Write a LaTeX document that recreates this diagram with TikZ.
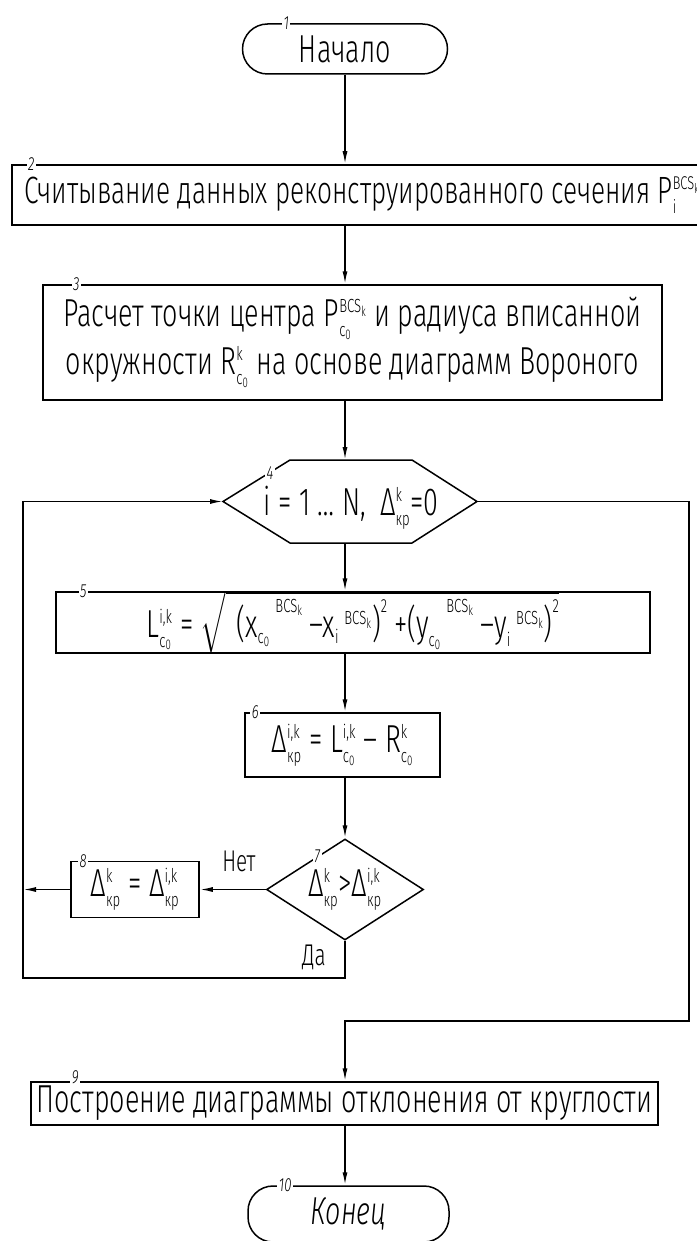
\RequirePackage{fix-cm}
\documentclass[tikz,border=0pt]{standalone}
\usepackage{amsmath}
\usepackage{fontspec}
\setmainfont{Fira Sans Light}[ItalicFont={Fira Sans Light Italic},
  FakeStretch=0.69]
\usepackage{tikz}
\usetikzlibrary{arrows.meta, positioning, calc, shapes.geometric}
\DeclareMathSizes{39}{39}{19}{14}
\DeclareMathSizes{38}{38}{18.5}{13.5}
\newcommand{\bcs}{\text{BCS}_{\text{k}}}
\newcommand{\cz}{\text{c}_{\text{0}}}
\newcommand{\kr}{\text{кр}}

\begin{document}
\begin{tikzpicture}[x=1pt, y=-1pt, line width=1.5pt,
          font=\fontsize{39}{48}\selectfont,
          arr/.style={-{Latex[length=13pt,width=5pt]}},
          box/.style={draw, inner sep=0pt, align=center},
          term/.style={draw, rounded corners=25pt, inner sep=0pt},
          num/.style={fill=white, inner sep=1.5pt,
            font=\fontsize{19}{19}\selectfont\itshape}]
        \path[use as bounding box, fill=white] (0,0) rectangle (696,1241);
        \node[term, minimum width=205pt, minimum height=50pt] (n1)
              at (345,49) {Начало};
        \node[box, minimum width=700pt, minimum height=60pt,
              font=\fontsize{38}{48}\selectfont] (n2)
              at (362,195) {Считывание данных реконструированного
              сечения P$_{\text{i}}^{\bcs}$};
        \node[box, minimum width=619pt, minimum height=115pt] (n3)
              at (352.5,342.5) {Расчет точки центра P$_{\cz}^{\bcs}$
              и радиуса вписанной\\окружности R$_{\cz}^{\text{k}}$
              на основе диаграмм Вороного};
        \coordinate (n4c) at (351,501.5);
        \node (n4) at (351,508) {i = 1 … N,\, Δ$_{\kr}^{\text{k}}$=0};
        \draw (n4c) ++(-61,-41.5) coordinate (n4nw) -- ++(122,0)
              -- ++(65,41.5) coordinate (n4e) -- ++(-65,41.5)
              -- ++(-122,0) coordinate (n4sw) -- ++(-67,-41.5)
              coordinate (n4w) -- cycle;
        \node[box, minimum width=594pt, minimum height=61pt] (n5)
              at (353,622.5) {L$_{\cz}^{\text{i,k}}$ = $\sqrt{\;
              {\text{(x}_{\cz}}^{\;\bcs}\,{\text{–x}_{\text{i}}}^{\;\bcs}
              \text{)}^{\text{2}}\,\text{+}
              {\text{(y}_{\cz}}^{\;\bcs}\,{\text{–y}_{\text{i}}}^{\;\bcs}
              \text{)}^{\text{2}}}$};
        \node[box, minimum width=195pt, minimum height=64pt] (n6)
              at (342.5,745) {Δ$_{\kr}^{\text{i,k}}$ = L$_{\cz}^{\text{i,k}}$
              – R$_{\cz}^{\text{k}}$};
        \node[diamond, draw, aspect=1.55, inner sep=0pt,
              minimum width=157pt, minimum height=101pt] (n7)
              at (345,889.5) {Δ$_{\kr}^{\text{k}}$>Δ$_{\kr}^{\text{i,k}}$};
        \node[box, minimum width=128pt, minimum height=56pt] (n8)
              at (135,889.5) {Δ$_{\kr}^{\text{k}}$ = Δ$_{\kr}^{\text{i,k}}$};
        \node[box, minimum width=627pt, minimum height=43pt] (n9)
              at (344.5,1103.5) {Построение диаграммы отклонения от круглости};
        \node[term, minimum width=201pt, minimum height=56pt,
              font=\fontsize{39}{48}\selectfont\itshape] (n10)
              at (348.5,1214) {Конец};
        \node[num] (t1) at ([xshift=44.5pt]n1.north west) {1};
        \node[num] (t2) at ([xshift=20pt]n2.north west) {2};
        \node[num] (t3) at ([xshift=34pt]n3.north west) {3};
        \node[num] (t4) at (270,473) {4};
        \node[num] (t5) at ([xshift=28pt]n5.north west) {5};
        \node[num] (t6) at ([xshift=11pt]n6.north west) {6};
        \node[num] (t7) at ($(n7.west)!0.65!(n7.north)$) {7};
        \node[num] (t8) at ([xshift=13pt]n8.north west) {8};
        \node[num] (t9) at ([xshift=45pt, yshift=4pt]n9.north west) {9};
        \node[num] (t10) at ([xshift=38pt]n10.north west) {10};
        \node[font=\fontsize{30}{30}\selectfont] (no) at (239,861) {Нет};
        \node[font=\fontsize{30}{30}\selectfont] (yes) at (314,957) {Да};
        \coordinate (lp) at (23,978);
        \coordinate (rt) at (689,1021);
        \draw[arr] (n1.south) -- (n1 |- n2.north);
        \draw[arr] (n1 |- n2.south) -- (n1 |- n3.north);
        \draw[arr] (n1 |- n3.south) -- (n1 |- n4nw);
        \draw[arr] (n1 |- n4sw) -- (n1 |- n5.north);
        \draw[arr] (n1 |- n5.south) -- (n6.north -| n1);
        \draw[arr] (n1 |- n6.south) -- (n7.north);
        \draw[arr] (n7.west) -- (n8.east);
        \draw[arr] (n8.west) -- (n8.west -| lp);
        \draw[arr] (n7.south) |- (lp) |- (n4w);
        \draw[arr] (n4e) -| (rt) -| (n1 |- n9.north);
        \draw[arr] (n1 |- n9.south) -- (n1 |- n10.north);
      \end{tikzpicture}
\end{document}
